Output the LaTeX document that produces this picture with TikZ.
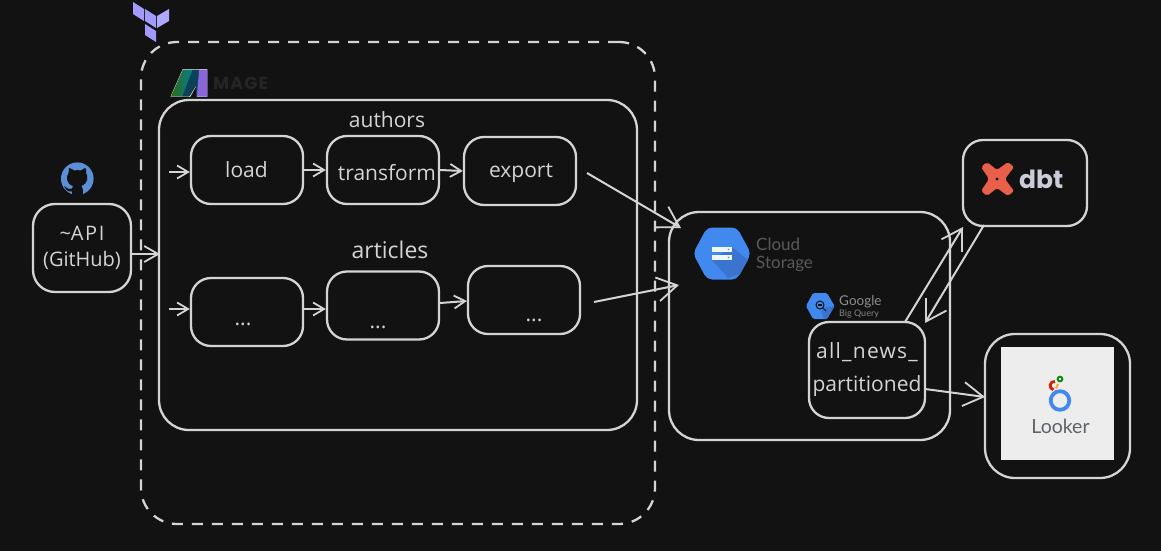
\documentclass[tikz,border=0pt]{standalone}
\usepackage{fontspec}
\setmainfont{Open Sans}
\newfontfamily\logofont{Lato}
\newfontfamily\boldlogo{Poppins}
\usetikzlibrary{arrows.meta,shapes.geometric}
\definecolor{bgc}{HTML}{121212}
\definecolor{linec}{HTML}{D4D4D4}
\definecolor{gblue}{HTML}{4189EE}
\definecolor{gshade}{HTML}{3A74CF}
\definecolor{tfc}{HTML}{A29BFE}
\definecolor{ghc}{HTML}{5B8FD6}
\definecolor{dbto}{HTML}{E8604A}
\definecolor{dbtt}{HTML}{C9CDD8}
\definecolor{lookt}{HTML}{5F6368}
\definecolor{mgreen}{HTML}{2E6B12}
\definecolor{mteal}{HTML}{047F96}
\definecolor{mdark}{HTML}{0B4258}
\definecolor{mpurple}{HTML}{8A66DC}
\newcommand{\lbl}[3]{\makebox[0pt]{\hspace*{#1}\smash{\raisebox{#2}{#3}}}}
\tikzset{
  box/.style={draw=linec,line width=2.3pt,rounded corners=20pt,anchor=center,inner sep=0pt,text=linec,align=center,font=\fontsize{21}{25}\selectfont},
  wfbox/.style={box,minimum width=112pt,minimum height=68pt},
  hand/.style={text=linec,font=\fontsize{21}{25}\selectfont,inner sep=0pt},
  conn/.style={draw=linec,line width=2pt,-{Straight Barb[length=11pt,width=13pt,line width=1.8pt]}},
  midconn/.style={draw=linec,line width=2pt,-{Straight Barb[length=14pt,width=16pt,line width=1.8pt]}},
  bigconn/.style={draw=linec,line width=2pt,-{Straight Barb[length=20pt,width=24pt,line width=1.8pt]}},
  logotext/.style={inner sep=0pt,anchor=west,align=left},
}
\begin{document}
\begin{tikzpicture}[x=1pt,y=-1pt]
\useasboundingbox (0,0) rectangle (1161,551);
\fill[bgc] (0,0) rectangle (1161,551);
% containers
\node[box,dash pattern=on 11pt off 9pt,rounded corners=36pt,minimum width=514pt,minimum height=482pt] (tf) at (398,283) {};
\node[box,rounded corners=30pt,minimum width=478pt,minimum height=330pt] (mage) at (398,265) {};
\node[box,rounded corners=30pt,minimum width=281pt,minimum height=228pt] (gcs) at (809.5,326) {};
% terraform logo
\fill[tfc] (133,2) -- (144,9) -- (144,21) -- (133,14) -- cycle;
\fill[tfc] (145,9) -- (156,16) -- (156,28) -- (145,21) -- cycle;
\fill[tfc!85!white] (157,16) -- (169,9) -- (169,21) -- (157,28) -- cycle;
\fill[tfc] (145,24) -- (156,31) -- (156,42) -- (145,35) -- cycle;
% mage logo
\draw[white!85!black,line width=.8pt,line join=round] (171,96.5) -- (183,69.5) -- (207,69.5) -- (207,96.5) -- (197,96.5) -- (197,84) -- (190,96.5) -- (182,96.5) -- (188,84) -- (182,96.5) -- cycle;
\shade[left color=mgreen,right color=mteal] (171,96.5) -- (183,69.5) -- (193,69.5) -- (182,96.5) -- cycle;
\fill[mdark] (182,96.5) -- (193,69.5) -- (199,69.5) -- (197,96.5) -- (196,96.5) -- (196,86) -- (189,96.5) -- cycle;
\fill[mpurple] (199,69.5) -- (207,69.5) -- (207,96.5) -- (197,96.5) -- cycle;
\node[logotext,text=white!8!bgc,font=\boldlogo\bfseries\fontsize{17.5}{18}\selectfont] (magetext) at (213,83) {\addfontfeature{LetterSpace=6}MAGE};
% labels over boxes
\node[hand] (authors) at (387,120) {authors};
\node[hand,font=\fontsize{23}{25}\selectfont] (articles) at (390,250) {articles};
% workflow boxes
\node[wfbox] (load) at (247,170) {\lbl{-1pt}{-7pt}{load}};
\node[wfbox] (transform) at (383,170) {\lbl{8pt}{-10pt}{transform}};
\node[wfbox] (export) at (520,171) {\lbl{2pt}{-6pt}{export}};
\node[wfbox] (d1) at (247,312) {\lbl{-8pt}{-13pt}{...}};
\node[wfbox] (d2) at (383,305.5) {\lbl{-10pt}{-23pt}{...}};
\node[wfbox] (d3) at (524,300) {\lbl{20pt}{-21pt}{...}};
% api
\node[box,minimum width=98pt,minimum height=88pt,rounded corners=22pt,font=\fontsize{20}{26}\selectfont] (api) at (82,248) {\char`\~\addfontfeature{LetterSpace=8}API\\(GitHub)};
% github logo
\fill[ghc] (77.3,178.7) circle (16.3pt);
\fill[bgc] (69,168) .. controls (71,168) and (73,170) .. (74,170.5) .. controls (76,170) and (79,170) .. (81,170.5) .. controls (82,170) and (84,168) .. (85.5,168) .. controls (86.5,170) and (86.5,172) .. (86,173) .. controls (88.5,176) and (88,184) .. (81.5,186) .. controls (83,188) and (83,190) .. (83,196) -- (72,196) -- (72,191.5) .. controls (68,192) and (66,190) .. (64,186) .. controls (66,187) and (68,190) .. (72,188.5) .. controls (72,187.5) and (72.5,186.5) .. (73,186) .. controls (66,184) and (66,176) .. (68.5,173) .. controls (68,171) and (68,170) .. (69,168) -- cycle;
% cloud storage
\node[box,rounded corners=20pt,minimum width=116pt,minimum height=96pt,font=\fontsize{21}{33}\selectfont] (bq) at (867,370) {{\addfontfeature{LetterSpace=6}all\_news\_}\\partitioned};
\fill[gblue,rounded corners=5pt] (693,253.5) -- (707,227.5) -- (737,227.5) -- (751,253.5) -- (737,279.5) -- (707,279.5) -- cycle;
\fill[gshade] (712,260) -- (732,247) -- (748,260) -- (740,274) -- (728,278) -- cycle;
\fill[white!92!gblue] (712,247) rectangle (732,252);
\fill[white!92!gblue] (712,255) rectangle (732,260);
\fill[gblue] (728.5,249.5) circle (.8pt);
\fill[gblue] (728.5,257.5) circle (.8pt);
\node[logotext,text=white!30!bgc,font=\logofont\fontsize{17}{18.5}\selectfont] (gcstext) at (756,255) {Cloud\\Storage};
% bigquery
\fill[gblue,rounded corners=1.5pt] (806,306) -- (813,293) -- (827,293) -- (834.5,306) -- (827,319) -- (813,319) -- cycle;
\fill[gshade,rounded corners=1pt] (821,311) -- (825,307) -- (834.5,306) -- (827,319) -- (824,319) -- cycle;
\draw[bgc,line width=1pt] (820,305) circle (4pt);
\draw[bgc,line width=1pt] (823,308) -- (826,311);
\fill[bgc] (818,304) rectangle (822,306);
\node[logotext,text=white!52!bgc,font=\logofont\fontsize{13.5}{14}\selectfont] (bqa) at (839,301.5) {Google};
\node[logotext,text=white!48!bgc,font=\logofont\fontsize{9}{10}\selectfont] (bqb) at (839,314) {Big Query};
% dbt
\node[box,rounded corners=20pt,minimum width=124pt,minimum height=86pt] (dbt) at (1025,183) {};
\fill[dbto,rounded corners=2pt] (987,162) -- (997,170) -- (1008,162) -- (1014,167) -- (1005,179) -- (1014,191) -- (1008,196) -- (997,188) -- (987,196) -- (981,191) -- (989,179) -- (981,167) -- cycle;
\fill[bgc] (997,179) circle (1.6pt);
\node[logotext,text=dbtt,font=\boldlogo\bfseries\fontsize{25}{25}\selectfont] (dbttext) at (1019,179) {dbt};
% looker
\node[box,rounded corners=30pt,minimum width=145pt,minimum height=144pt] (looker) at (1057.5,406) {};
\fill[white!93!black] (1001,347) rectangle (1114,460);
\draw[gblue,line width=3.8pt] (1060,400.5) circle (9.3pt);
\draw[red!70!orange!85!black,line width=2.8pt] (1055,381.5) arc[start angle=80,end angle=260,radius=4.2pt];
\draw[orange!70!white,line width=2.2pt] (1058,384) -- (1056,388.5);
\draw[green!55!black,line width=1.8pt] (1060,379) circle (2.4pt);
\node[inner sep=0pt,text=lookt,font=\logofont\fontsize{19.5}{20}\selectfont] (lookertext) at (1060.5,426) {Looker};
% free arrow ends
\coordinate (s1) at (169,172);
\coordinate (s2) at (169,309);
\coordinate (e1) at (160,254);
\coordinate (a1) at (587,173);
\coordinate (a2) at (681,228);
\coordinate (b1) at (594,302);
\coordinate (b2) at (679,285);
\coordinate (c1) at (905,322);
\coordinate (c2) at (963,227);
\coordinate (f1) at (984,225);
\coordinate (f2) at (925,323);
\coordinate (g1) at (925,389);
\coordinate (g2) at (985,397);
\coordinate (h1) at (439,303);
\coordinate (h2) at (467,301);
% connectors
\draw[midconn] (api.east |- e1) -- (e1);
\draw[conn] (s1) -- (load.west |- s1);
\draw[conn] (load.east) -- (transform.west);
\draw[conn] (transform.east) -- (export.west);
\draw[conn] (s2) -- (d1.west |- s2);
\draw[conn] (d1.east |- s2) -- (d2.west |- s2);
\draw[conn] (d2.east |- h1) -- (d3.west |- h2);
\draw[bigconn] (a1) -- (a2);
\draw[bigconn] (b1) -- (b2);
\draw[bigconn] (c1) -- (c2);
\draw[bigconn] (f1) -- (f2);
\draw[bigconn] (g1) -- (g2);
\end{tikzpicture}
\end{document}
